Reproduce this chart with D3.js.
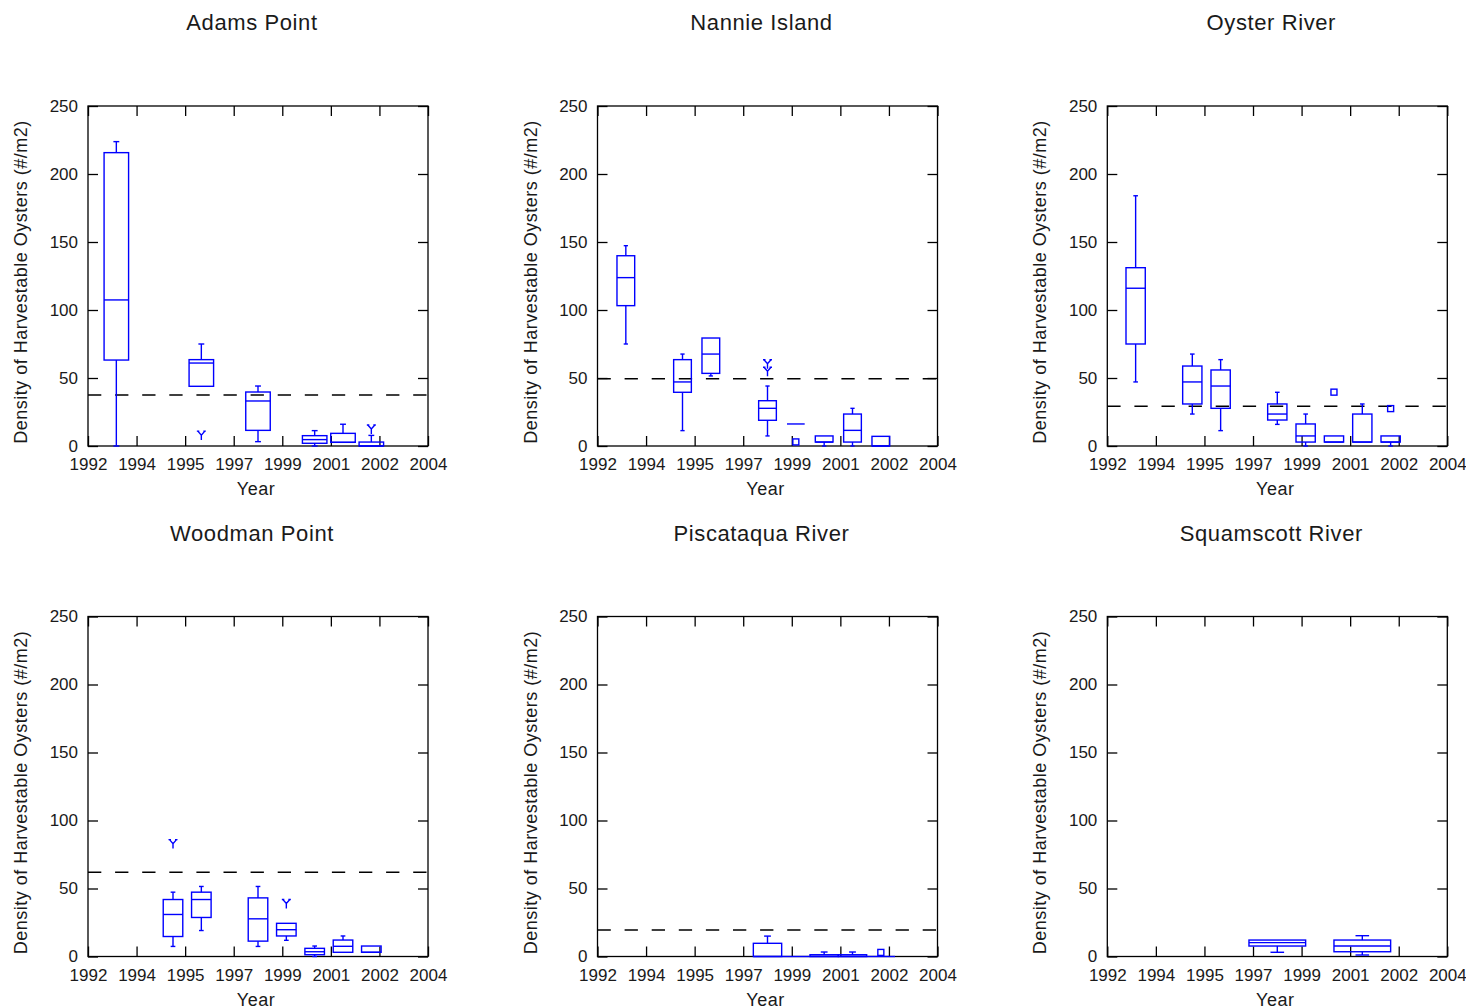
<!DOCTYPE html>
<html>
<head>
<meta charset="utf-8">
<script src="https://cdn.jsdelivr.net/npm/d3@7.9.0/dist/d3.min.js"></script>
<style>
  body { margin: 0; background: #fff; }
  svg { display: block; }
</style>
</head>
<body>
<svg id="chart" width="1466" height="1008"></svg>
<script>
// box rows: [year, whiskerLow, q1, median, q3, whiskerHigh]
const adamsPoint = [
  [1993, 0, 63.2, 107.4, 215.7, 223.8],
  [1996, 43.9, 43.9, 61, 63.5, 75],
  [1998, 3.2, 11.5, 33.1, 39.7, 44.1],
  [2000, 0, 2, 4.7, 7.6, 11.3],
  [2001, 2.7, 2.7, 2.7, 9.3, 16],
  [2002, 0, 0, 0, 2.9, 7.8]
];
const nannieIsland = [
  [1993, 75, 103.2, 123.8, 139.9, 147.3],
  [1995, 11.3, 39.5, 47.1, 63.5, 67.6],
  [1996, 51.5, 53.4, 67.6, 79.4, 79.4],
  [1998, 7.4, 18.9, 27.7, 33.3, 44.1],
  [1999, 16.2, 16.2, 16.2, 16.2, 16.2],
  [2000, 0, 2.9, 2.9, 7.4, 7.4],
  [2001, 0, 2.9, 11.5, 23.5, 27.7],
  [2002, 0, 0, 0, 7.1, 7.1]
];
const oysterRiver = [
  [1993, 47.1, 75, 116, 131.1, 184],
  [1995, 23.5, 30.9, 47.1, 58.8, 67.6],
  [1996, 11.3, 27.7, 44.1, 55.9, 63.5],
  [1998, 15.9, 19.1, 23.5, 30.9, 39.5],
  [1999, 0, 2.9, 7.4, 16.2, 23.5],
  [2000, 2.9, 2.9, 2.9, 7.4, 7.4],
  [2001, 2.9, 2.9, 2.9, 23.5, 30.9],
  [2002, 0, 2.9, 2.9, 7.4, 7.4]
];
const woodmanPoint = [
  [1995, 7.4, 14.7, 30.9, 41.9, 47.3],
  [1996, 19.1, 28.7, 41.9, 47.3, 51.5],
  [1998, 7.4, 11.3, 27.7, 43.1, 51.5],
  [1999, 11.9, 15.1, 19.7, 24.4, 24.4],
  [2000, 0, 1.3, 3.5, 6, 7.7],
  [2001, 3.1, 3.1, 7.5, 12.1, 15.1],
  [2002, 3.1, 3.1, 3.1, 7.7, 7.7]
];
const piscataquaRiver = [
  [1998, 0, 0, 0, 9.7, 15],
  [1999, 0, 0, 0, 0, 0],
  [2000, 0, 0, 0, 1.3, 3.3],
  [2001, 0, 0, 0, 1.3, 3.3],
  [2002, 0, 0, 0, 0, 0]
];
const squamscottRiver = [
  [1998, 3.1, 7.7, 10.2, 12.1, 12.1],
  [2001, 1.1, 3.5, 7.7, 12.1, 15.3]
];

// outliers: [year, value, number of overlapping points]
const adamsOutliers = [[1996, 8, 2], [2002, 12.5, 2]];
const nannieOutliers = [[1998, 60.5, 2], [1998, 55, 2], [1999, 3, 1]];
const oysterOutliers = [[2000, 39.6, 1], [2002, 27.5, 1]];
const woodmanOutliers = [[1995, 83, 2], [1999, 39, 2]];
const piscataquaOutliers = [[2002, 3, 1]];
const squamscottOutliers = [];

const sites = ['Adams Point', 'Nannie Island', 'Oyster River', 'Woodman Point', 'Piscataqua River', 'Squamscott River'];
const thresholds = [37.5, 49.5, 29.2, 62, 19.5, null];
const siteBoxes = [adamsPoint, nannieIsland, oysterRiver, woodmanPoint, piscataquaRiver, squamscottRiver];
const siteOutliers = [adamsOutliers, nannieOutliers, oysterOutliers, woodmanOutliers, piscataquaOutliers, squamscottOutliers];

const yTicks = [0, 50, 100, 150, 200, 250];
const xTickLabels = ['1992', '1994', '1995', '1997', '1999', '2001', '2002', '2004'];

// layout
const lefts = [88, 597.5, 1107.3];
const tops = [106, 616.5];
const size = 340;
const boxWidths = [0.865, 0.625, 0.68, 0.69, 1.0, 2.0]; // in years
const blue = '#0000ff';
const font = "'Liberation Sans', Arial, sans-serif";

const svg = d3.select('#chart');

const x = d3.scaleLinear().domain([1992, 2004]).range([0, size]);
const y = d3.scaleLinear().domain([0, 250]).range([size, 0]);
const xTicks = d3.range(xTickLabels.length).map(i => 1992 + i * 12 / (xTickLabels.length - 1));

function styleAxis(g, labels) {
  g.select('.domain').remove();
  g.selectAll('.tick line').attr('stroke', '#000').attr('stroke-width', 1.3);
  g.selectAll('.tick text').attr('fill', '#1a1a1a').attr('font-size', 17).attr('font-family', font);
  if (!labels) g.selectAll('.tick text').remove();
}

sites.forEach((site, i) => {
  const col = i % 3, row = Math.floor(i / 3);
  const g = svg.append('g').attr('transform', `translate(${lefts[col]},${tops[row]})`);
  const bw = x(1992 + boxWidths[i]) - x(1992);
  const cap = bw * 0.24;

  g.append('text')
    .attr('x', size / 2 - 6).attr('y', -76)
    .attr('text-anchor', 'middle')
    .attr('font-family', font).attr('font-size', 22).attr('letter-spacing', 0.6)
    .attr('fill', '#1a1a1a')
    .text(site);

  // axes, ticks pointing inward
  g.append('g').attr('transform', `translate(0,${size})`)
    .call(d3.axisBottom(x).tickValues(xTicks).tickSize(-10).tickSizeOuter(0).tickPadding(12)
      .tickFormat((d, k) => xTickLabels[k]))
    .call(a => styleAxis(a, true));
  g.append('g')
    .call(d3.axisTop(x).tickValues(xTicks).tickSize(-10).tickSizeOuter(0))
    .call(a => styleAxis(a, false));
  g.append('g')
    .call(d3.axisLeft(y).tickValues(yTicks).tickSize(-10).tickSizeOuter(0).tickPadding(10))
    .call(a => styleAxis(a, true));
  g.append('g').attr('transform', `translate(${size},0)`)
    .call(d3.axisRight(y).tickValues(yTicks).tickSize(-10).tickSizeOuter(0))
    .call(a => styleAxis(a, false));

  g.append('rect')
    .attr('width', size).attr('height', size)
    .attr('fill', 'none').attr('stroke', '#000').attr('stroke-width', 1.3);

  g.append('text')
    .attr('x', size / 2 - 2).attr('y', size + 49)
    .attr('text-anchor', 'middle')
    .attr('font-family', font).attr('font-size', 18).attr('letter-spacing', 0.5)
    .attr('fill', '#1a1a1a')
    .text('Year');

  g.append('text')
    .attr('transform', `translate(-61,${size / 2 + 6}) rotate(-90)`)
    .attr('text-anchor', 'middle')
    .attr('font-family', font).attr('font-size', 18).attr('letter-spacing', 0.5)
    .attr('fill', '#1a1a1a')
    .text('Density of Harvestable Oysters (#/m2)');

  if (thresholds[i] != null) {
    g.append('line')
      .attr('x1', 0).attr('x2', size)
      .attr('y1', y(thresholds[i])).attr('y2', y(thresholds[i]))
      .attr('stroke', '#000').attr('stroke-width', 1.4)
      .attr('stroke-dasharray', '13.3,13.8');
  }

  const boxes = g.append('g')
    .attr('fill', 'none').attr('stroke', blue).attr('stroke-width', 1.4);

  siteBoxes[i].forEach(([yr, lo, q1, med, q3, hi]) => {
    const cx = x(yr);
    if (hi > q3) {
      boxes.append('line').attr('x1', cx).attr('x2', cx).attr('y1', y(q3)).attr('y2', y(hi));
      boxes.append('line').attr('x1', cx - cap / 2).attr('x2', cx + cap / 2).attr('y1', y(hi)).attr('y2', y(hi));
    }
    if (lo < q1) {
      boxes.append('line').attr('x1', cx).attr('x2', cx).attr('y1', y(q1)).attr('y2', y(lo));
      boxes.append('line').attr('x1', cx - cap / 2).attr('x2', cx + cap / 2).attr('y1', y(lo)).attr('y2', y(lo));
    }
    boxes.append('rect')
      .attr('x', cx - bw / 2).attr('width', bw)
      .attr('y', y(q3)).attr('height', y(q1) - y(q3));
    boxes.append('line')
      .attr('x1', cx - bw / 2).attr('x2', cx + bw / 2)
      .attr('y1', y(med)).attr('y2', y(med));
  });

  siteOutliers[i].forEach(([yr, v, n]) => {
    const cx = x(yr), cy = y(v);
    if (n > 1) {
      boxes.append('path')
        .attr('d', `M${cx - 3.5},${cy - 4}L${cx},${cy}L${cx + 3.5},${cy - 4}M${cx},${cy}V${cy + 5}`
          + `M${cx - 4.5},${cy - 4}H${cx - 2}M${cx + 2},${cy - 4}H${cx + 4.5}`);
    } else {
      boxes.append('rect')
        .attr('x', cx - 3).attr('y', cy - 3).attr('width', 6).attr('height', 6);
    }
  });
});
</script>
</body>
</html>
